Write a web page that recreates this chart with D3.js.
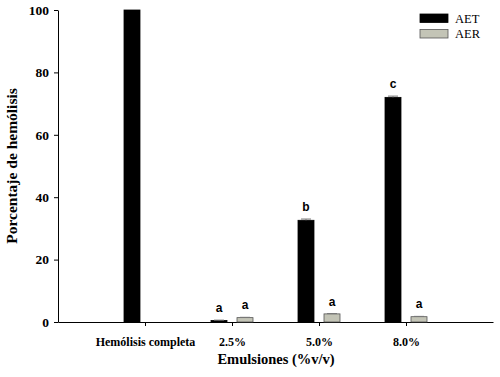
<!DOCTYPE html>
<html>
<head>
<meta charset="utf-8">
<script src="https://cdn.jsdelivr.net/npm/d3@7"></script>
<style>
  body { margin: 0; background: #fff; }
  .axis text { font-family: "Liberation Serif", "Times New Roman", serif; font-weight: bold; font-size: 12px; fill: #000; }
  .y-axis text { font-size: 13.5px; }
  .axis path, .axis line { stroke: #000; stroke-width: 1; }
</style>
</head>
<body>
<div id="chart"></div>
<script>
// data
const categories = ['Hemólisis completa', '2.5%', '5.0%', '8.0%'];
const aetValues = [100, 0.5, 32.6, 72.0];
const aerValues = [0, 1.4, 2.6, 1.7];
const aetErrors = [0, 0.1, 0.4, 0.4];
const aerErrors = [0, 0.1, 0.1, 0.1];
const aetLetters = ['', 'a', 'b', 'c'];
const aerLetters = ['', 'a', 'a', 'a'];
const seriesNames = ['AET', 'AER'];
const yTicks = [0, 20, 40, 60, 80, 100];

const width = 500, height = 377;
const colors = { AET: '#000000', AER: '#c3c4b6' };

const svg = d3.select('#chart').append('svg')
    .attr('width', width)
    .attr('height', height);

const x = d3.scalePoint()
    .domain(categories)
    .range([58, 493])
    .padding(1);

const y = d3.scaleLinear()
    .domain([0, 100])
    .range([322, 10]);

const barW = 16;
const offset = 13;

// x axis
svg.append('g')
    .attr('class', 'axis x-axis')
    .attr('transform', `translate(0,${y(0)})`)
    .call(d3.axisBottom(x).tickSize(4).tickSizeOuter(0).tickPadding(11));

// y axis
svg.append('g')
    .attr('class', 'axis y-axis')
    .attr('transform', `translate(58,0)`)
    .call(d3.axisLeft(y).tickValues(yTicks).tickSize(4).tickSizeOuter(0).tickPadding(5));

const series = [
    { name: 'AET', values: aetValues, errors: aetErrors, letters: aetLetters, dx: -offset },
    { name: 'AER', values: aerValues, errors: aerErrors, letters: aerLetters, dx: offset }
];

series.forEach(s => {
    const g = svg.append('g').attr('class', 'series-' + s.name);
    const data = categories.map((c, i) => ({ c, v: s.values[i], e: s.errors[i], l: s.letters[i] }))
        .filter(d => d.v > 0);

    g.selectAll('rect')
        .data(data)
        .enter().append('rect')
        .attr('x', d => x(d.c) + s.dx - barW / 2)
        .attr('y', d => y(d.v))
        .attr('width', barW)
        .attr('height', d => y(0) - y(d.v))
        .attr('fill', colors[s.name])
        .attr('stroke', s.name === 'AER' ? '#555' : '#000')
        .attr('stroke-width', 0.8);

    // error caps
    g.selectAll('.err')
        .data(data.filter(d => d.e > 0))
        .enter().append('path')
        .attr('class', 'err')
        .attr('d', d => {
            const cx = x(d.c) + s.dx;
            const top = y(d.v + d.e);
            return `M${cx - 5},${top}H${cx + 5}M${cx},${top}V${y(d.v)}`;
        })
        .attr('stroke', '#777')
        .attr('stroke-width', 1)
        .attr('fill', 'none');

    // significance letters
    g.selectAll('.lbl')
        .data(data.filter(d => d.l))
        .enter().append('text')
        .attr('class', 'lbl')
        .attr('x', d => x(d.c) + s.dx)
        .attr('y', d => y(d.v + d.e) - 8)
        .attr('text-anchor', 'middle')
        .style('font-family', '"Liberation Sans", Arial, sans-serif')
        .style('font-weight', 'bold')
        .style('font-size', '12px')
        .text(d => d.l);
});

// axis titles
svg.append('text')
    .attr('x', 276)
    .attr('y', 364)
    .attr('text-anchor', 'middle')
    .style('font-family', '"Liberation Serif", "Times New Roman", serif')
    .style('font-weight', 'bold')
    .style('font-size', '14.5px')
    .text('Emulsiones (%v/v)');

svg.append('text')
    .attr('transform', 'rotate(-90)')
    .attr('x', -166)
    .attr('y', 17)
    .attr('text-anchor', 'middle')
    .style('font-family', '"Liberation Serif", "Times New Roman", serif')
    .style('font-weight', 'bold')
    .style('font-size', '15.5px')
    .text('Porcentaje de hemólisis');

// legend
const legend = svg.append('g').attr('class', 'legend');
seriesNames.forEach((name, i) => {
    legend.append('rect')
        .attr('x', 420)
        .attr('y', 14 + i * 15.5)
        .attr('width', 28)
        .attr('height', 8.5)
        .attr('fill', colors[name])
        .attr('stroke', name === 'AER' ? '#555' : '#000')
        .attr('stroke-width', 0.8);
    legend.append('text')
        .attr('x', 455)
        .attr('y', 22.5 + i * 15.5)
        .style('font-family', '"Liberation Serif", "Times New Roman", serif')
        .style('font-size', '12.5px')
        .text(name);
});
</script>
</body>
</html>
